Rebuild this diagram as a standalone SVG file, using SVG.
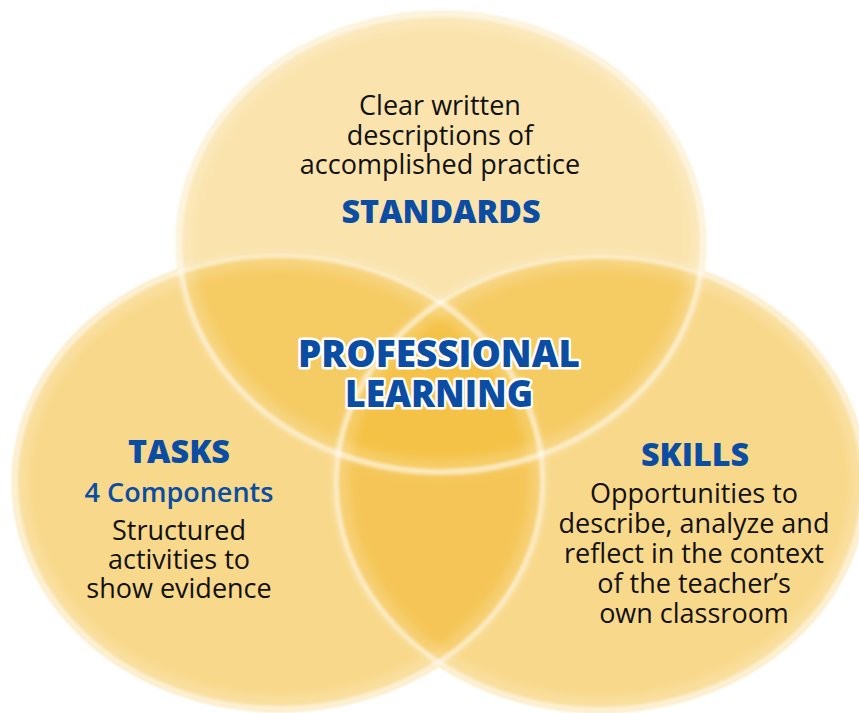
<svg xmlns="http://www.w3.org/2000/svg" width="859" height="713" viewBox="0 0 859 713">
  <defs>
    <filter id="soft" x="-5%" y="-5%" width="110%" height="110%">
      <feGaussianBlur stdDeviation="1.2"/>
    </filter>
    <filter id="rimblur" x="-5%" y="-5%" width="110%" height="110%">
      <feGaussianBlur stdDeviation="1.6"/>
    </filter>
    <filter id="glowblur" x="-5%" y="-5%" width="110%" height="110%">
      <feGaussianBlur stdDeviation="5"/>
    </filter>
  </defs>
  <style>
    .fill { fill: #F3B92E; }
    .rim { fill: none; stroke: #FFFFFF; stroke-opacity: 0.58; stroke-width: 6; }
    .glow { fill: none; stroke: #FFFFFF; stroke-opacity: 0.18; stroke-width: 16; }
    .body { font-family: "Open Sans", "Noto Sans", "DejaVu Sans", sans-serif; font-size: 27px; fill: #111111; text-anchor: middle; }
    .title { font-family: "Open Sans", "Noto Sans", "DejaVu Sans", sans-serif; font-weight: 800; font-size: 31px; fill: #0A4DA2; text-anchor: middle; }
    .sub { font-family: "Open Sans", "Noto Sans", "DejaVu Sans", sans-serif; font-weight: 600; font-size: 27px; fill: #0A4DA2; text-anchor: middle; }
    .center { font-family: "Open Sans", "Noto Sans", "DejaVu Sans", sans-serif; font-weight: 800; font-size: 37px; fill: #0A4DA2; text-anchor: middle; stroke: #FFFFFF; stroke-width: 5; stroke-linejoin: round; paint-order: stroke fill; }
  </style>

  <g id="circles" filter="url(#soft)">
    <ellipse class="fill" cx="441" cy="243" rx="265" ry="232" fill-opacity="0.4"/>
    <ellipse class="fill" cx="279" cy="482" rx="267" ry="230" fill-opacity="0.56"/>
    <ellipse class="fill" cx="600" cy="483" rx="267" ry="230" fill-opacity="0.56"/>
  </g>
  <g id="rims">
    <g filter="url(#glowblur)">
      <ellipse class="glow" cx="441" cy="243" rx="257" ry="224"/>
      <ellipse class="glow" cx="279" cy="482" rx="259" ry="222"/>
      <ellipse class="glow" cx="600" cy="483" rx="259" ry="222"/>
    </g>
    <g filter="url(#rimblur)">
      <ellipse class="rim" cx="441" cy="243" rx="262" ry="229"/>
      <ellipse class="rim" cx="279" cy="482" rx="264" ry="227"/>
      <ellipse class="rim" cx="600" cy="483" rx="264" ry="227"/>
    </g>
  </g>

  <g id="connectors"/>

  <g id="node-standards">
    <text class="body" x="440" y="115">Clear written</text>
    <text class="body" x="440" y="145">descriptions of</text>
    <text class="body" x="440" y="174">accomplished practice</text>
    <text class="title" x="441" y="223" textLength="199" lengthAdjust="spacingAndGlyphs">STANDARDS</text>
  </g>

  <g id="node-tasks">
    <text class="title" x="179" y="463" textLength="102" lengthAdjust="spacingAndGlyphs">TASKS</text>
    <text class="sub" x="179" y="502">4 Components</text>
    <text class="body" x="179" y="540">Structured</text>
    <text class="body" x="179" y="569">activities to</text>
    <text class="body" x="179" y="598">show evidence</text>
  </g>

  <g id="node-skills">
    <text class="title" x="695" y="466" textLength="108" lengthAdjust="spacingAndGlyphs">SKILLS</text>
    <text class="body" x="694" y="503">Opportunities to</text>
    <text class="body" x="694" y="533">describe, analyze and</text>
    <text class="body" x="694" y="563">reflect in the context</text>
    <text class="body" x="694" y="593">of the teacher’s</text>
    <text class="body" x="694" y="623">own classroom</text>
  </g>

  <g id="node-professional-learning">
    <text class="center" x="439" y="367" textLength="282" lengthAdjust="spacingAndGlyphs">PROFESSIONAL</text>
    <text class="center" x="439" y="407" textLength="188" lengthAdjust="spacingAndGlyphs">LEARNING</text>
  </g>
</svg>
